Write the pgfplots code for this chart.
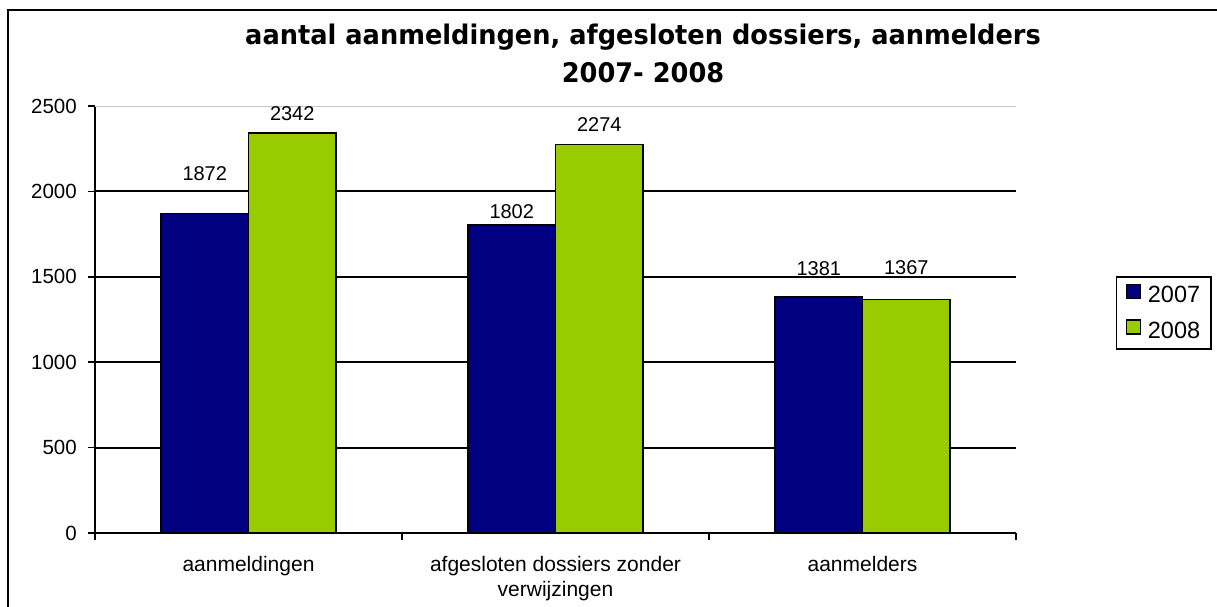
\documentclass[border=0pt]{standalone}
\usepackage{pgfplots}
\pgfplotsset{compat=1.18}
\usepackage{pgfplotstable}
\usepackage{fontspec}
\setmainfont{Liberation Sans}
\newfontfamily\titlefont[FakeStretch=0.95]{DejaVu Sans}
\definecolor{navyb}{RGB}{0,0,128}
\definecolor{limeg}{RGB}{153,204,0}
\pgfplotstableread{
x y07 o07 y08 o08
0 1872 33 2342 12
1 1802 7 2274 13
2 1381 22 1367 25
}\data
\begin{document}
\begin{tikzpicture}
\useasboundingbox (0,0) rectangle (1217pt,606pt);
\draw[line width=2pt] (8pt,-10pt) |- (1240pt,596pt);
\node[font=\titlefont\bfseries\fontsize{27}{38}\selectfont, align=center, anchor=base, inner sep=0pt] at (643pt,523pt) {aantal aanmeldingen, afgesloten dossiers, aanmelders\\2007- 2008};
\begin{axis}[
  at={(95pt,73pt)}, anchor=south west,
  scale only axis, width=921pt, height=427pt,
  xmin=-0.5, xmax=2.5, ymin=0, ymax=2500,
  /pgf/number format/.cd, 1000 sep={}, assume math mode=true, /pgfplots/.cd,
  axis x line*=bottom, axis y line*=left,
  axis line style={-, line width=2pt, black},
  xtick={-0.5,0.5,1.5,2.5},
  x tick label as interval,
  xticklabels={aanmeldingen,{afgesloten dossiers zonder\\verwijzingen},aanmelders},
  ytick={0,500,1000,1500,2000},
  extra y ticks={2500},
  extra y tick style={grid style={gray!45, line width=1pt}},
  ymajorgrids,
  grid style={black, line width=2pt},
  tick align=outside,
  xtick pos=bottom, ytick pos=left,
  major tick length=7pt,
  tick style={black, line width=1.5pt},
  yticklabel style={font=\fontsize{20.5}{25}\selectfont, anchor=east, inner sep=0pt, xshift=-11pt},
  xticklabel style={font=\fontsize{21}{25}\selectfont, anchor=north, align=center, inner sep=0pt, yshift=-16pt},
  ybar=0pt, bar width=87.5pt,
  legend style={at={(axis description cs:1.1085,0.6017)}, anchor=north west, draw=black, line width=1.5pt,
    font=\fontsize{23.5}{28}\selectfont, inner xsep=9pt, inner ysep=7pt, row sep=13pt,
    nodes={font=\fontsize{23.5}{28}\selectfont, inner sep=2pt},
    /tikz/every odd column/.append style={column sep=5pt}},
  legend cell align=left,
]
\addplot[fill=navyb, draw=black, line width=1.5pt,
  legend image code/.code={\draw[fill=navyb,draw=black,line width=1.2pt] (0pt,-3pt) rectangle (14pt,11pt);},
  nodes near coords,
  visualization depends on={\thisrow{o07} \as \off},
  every node near coord/.append style={anchor=base, inner sep=0pt, yshift=\off pt, font=\fontsize{20}{24}\selectfont, text=black}]
  table[x=x,y=y07] {\data};
\addlegendentry{2007}
\addplot[fill=limeg, draw=black, line width=1.5pt,
  legend image code/.code={\draw[fill=limeg,draw=black,line width=1.2pt] (0pt,-3pt) rectangle (14pt,11pt);},
  nodes near coords,
  visualization depends on={\thisrow{o08} \as \off},
  every node near coord/.append style={anchor=base, inner sep=0pt, yshift=\off pt, font=\fontsize{20}{24}\selectfont, text=black}]
  table[x=x,y=y08] {\data};
\addlegendentry{2008}
\end{axis}
\end{tikzpicture}
\end{document}
